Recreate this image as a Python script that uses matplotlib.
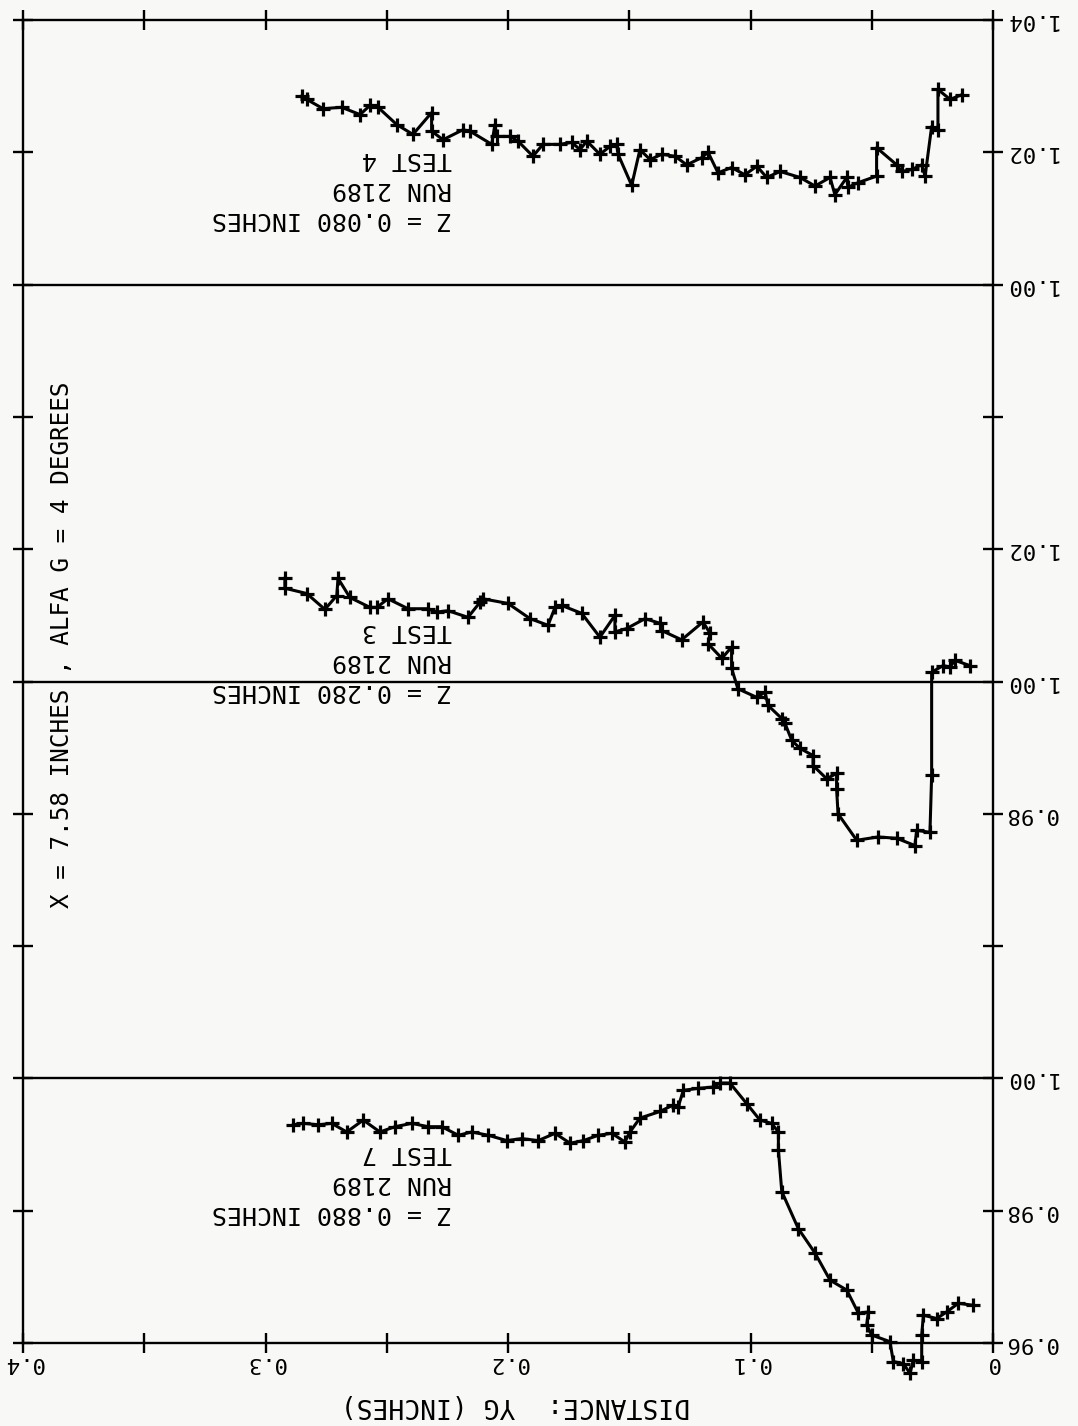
import matplotlib
matplotlib.use("Agg")
import matplotlib.pyplot as plt
import numpy as np

# ---------------- data (YG in inches, ratio values) ----------------
# TEST 4 : Z = 0.080 INCHES
yg_t4 = [0.2851, 0.2830, 0.2763, 0.2686, 0.2610, 0.2569, 0.2536, 0.2459, 0.2392, 0.2315,
         0.2315, 0.2268, 0.2186, 0.2157, 0.2067, 0.2054, 0.2047, 0.1992, 0.1959, 0.1897,
         0.1856, 0.1786, 0.1737, 0.1703, 0.1675, 0.1621, 0.1579, 0.1552, 0.1546, 0.1490,
         0.1456, 0.1414, 0.1366, 0.1311, 0.1263, 0.1201, 0.1175, 0.1134, 0.1078, 0.1023,
         0.0974, 0.0933, 0.0878, 0.0796, 0.0734, 0.0672, 0.0652, 0.0603, 0.0598, 0.0557,
         0.0480, 0.0480, 0.0397, 0.0376, 0.0335, 0.0294, 0.0280, 0.0253, 0.0227, 0.0227,
         0.0177, 0.0129]
val_t4 = [1.0285, 1.0280, 1.0266, 1.0268, 1.0257, 1.0271, 1.0268, 1.0242, 1.0227, 1.0260,
          1.0232, 1.0219, 1.0234, 1.0232, 1.0212, 1.0242, 1.0224, 1.0224, 1.0217, 1.0194,
          1.0212, 1.0212, 1.0215, 1.0204, 1.0217, 1.0197, 1.0209, 1.0212, 1.0197, 1.0150,
          1.0204, 1.0189, 1.0197, 1.0194, 1.0181, 1.0192, 1.0200, 1.0169, 1.0177, 1.0166,
          1.0179, 1.0162, 1.0171, 1.0162, 1.0149, 1.0162, 1.0136, 1.0162, 1.0147, 1.0154,
          1.0164, 1.0207, 1.0181, 1.0171, 1.0174, 1.0181, 1.0164, 1.0239, 1.0234, 1.0295,
          1.0280, 1.0287]

# TEST 3 : Z = 0.280 INCHES
yg_t3 = [0.2920, 0.2920, 0.2830, 0.2755, 0.2706, 0.2701, 0.2652, 0.2569, 0.2541, 0.2495,
         0.2412, 0.2330, 0.2294, 0.2247, 0.2165, 0.2115, 0.2103, 0.2000, 0.1909, 0.1835,
         0.1806, 0.1779, 0.1696, 0.1621, 0.1559, 0.1559, 0.1511, 0.1435, 0.1373, 0.1366,
         0.1284, 0.1196, 0.1167, 0.1175, 0.1118, 0.1078, 0.1078, 0.1052, 0.0974, 0.0940,
         0.0928, 0.0871, 0.0858, 0.0830, 0.0796, 0.0742, 0.0742, 0.0686, 0.0645, 0.0645,
         0.0639, 0.0562, 0.0474, 0.0397, 0.0322, 0.0315, 0.0260, 0.0253, 0.0253, 0.0206,
         0.0177, 0.0157, 0.0095]
val_t3 = [1.0156, 1.0141, 1.0133, 1.0109, 1.0130, 1.0156, 1.0127, 1.0112, 1.0112, 1.0125,
          1.0110, 1.0110, 1.0105, 1.0107, 1.0097, 1.0120, 1.0125, 1.0118, 1.0095, 1.0085,
          1.0112, 1.0115, 1.0103, 1.0067, 1.0100, 1.0075, 1.0080, 1.0095, 1.0088, 1.0077,
          1.0063, 1.0090, 1.0073, 1.0057, 1.0035, 1.0052, 1.0020, 0.9989, 0.9976, 0.9984,
          0.9964, 0.9944, 0.9937, 0.9911, 0.9899, 0.9888, 0.9873, 0.9853, 0.9861, 0.9838,
          0.9800, 0.9760, 0.9765, 0.9763, 0.9752, 0.9775, 0.9772, 0.9858, 1.0014, 1.0024,
          1.0022, 1.0032, 1.0024]

# TEST 7 : Z = 0.880 INCHES
yg_t7 = [0.2885, 0.2844, 0.2782, 0.2727, 0.2665, 0.2597, 0.2528, 0.2466, 0.2397, 0.2329,
         0.2273, 0.2205, 0.2150, 0.2081, 0.2005, 0.1944, 0.1875, 0.1806, 0.1744, 0.1689,
         0.1628, 0.1572, 0.1518, 0.1497, 0.1456, 0.1373, 0.1318, 0.1298, 0.1277, 0.1215,
         0.1153, 0.1126, 0.1085, 0.1016, 0.0961, 0.0913, 0.0885, 0.0885, 0.0871, 0.0803,
         0.0734, 0.0672, 0.0603, 0.0555, 0.0514, 0.0521, 0.0500, 0.0425, 0.0411, 0.0370,
         0.0342, 0.0329, 0.0294, 0.0294, 0.0287, 0.0232, 0.0191, 0.0143, 0.0081]
val_t7 = [0.9930, 0.9932, 0.9930, 0.9932, 0.9919, 0.9937, 0.9919, 0.9927, 0.9932, 0.9927,
          0.9927, 0.9914, 0.9919, 0.9914, 0.9906, 0.9909, 0.9906, 0.9917, 0.9902, 0.9906,
          0.9914, 0.9917, 0.9904, 0.9919, 0.9940, 0.9950, 0.9960, 0.9957, 0.9982, 0.9985,
          0.9987, 0.9993, 0.9993, 0.9962, 0.9937, 0.9932, 0.9919, 0.9892, 0.9829, 0.9773,
          0.9736, 0.9695, 0.9680, 0.9645, 0.9647, 0.9627, 0.9612, 0.9602, 0.9572, 0.9569,
          0.9554, 0.9574, 0.9572, 0.9612, 0.9642, 0.9637, 0.9647, 0.9660, 0.9657]

series_labels = ["Z = 0.080 INCHES\nRUN 2189\nTEST 4",
                 "Z = 0.280 INCHES\nRUN 2189\nTEST 3",
                 "Z = 0.880 INCHES\nRUN 2189\nTEST 7"]

x_ticks = [0.0, 0.05, 0.1, 0.15, 0.2, 0.25, 0.3, 0.35, 0.4]
x_tick_labels = ["0", "", "0.1", "", "0.2", "", "0.3", "", "0.4"]
y_tick_labels = ["0.96", "0.98", "1.00", "", "0.98", "1.00", "1.02", "", "1.00", "1.02", "1.04"]

# ---------------- layout ----------------
W, H = 1078, 1426
bg = "#f8f8f6"
font = "DejaVu Sans Mono"
# each curve is stacked: reference value 1.00 of each curve sits on its own line
bases = [0.84, 0.90, 0.96]

fig = plt.figure(figsize=(W / 100, H / 100), dpi=100, facecolor=bg)
ax = fig.add_axes([23 / W, 1 - 1343 / H, 970 / W, 1323 / H])
ax.set_facecolor(bg)
ax.set_xlim(0.4, 0.0)
ax.set_ylim(0.0, 0.20)

for b in bases:
    ax.axhline(1.00 - b, color="black", lw=1.7, zorder=2)

for xs, vs, b in [(yg_t4, val_t4, bases[0]), (yg_t3, val_t3, bases[1]), (yg_t7, val_t7, bases[2])]:
    ax.plot(xs, np.array(vs) - b, color="black", lw=2.2, marker="+",
            markersize=10, markeredgewidth=2.3, clip_on=False, zorder=3)

for s in ax.spines.values():
    s.set_linewidth(1.7)

ax.set_xticks(x_ticks)
ax.set_xticklabels(x_tick_labels)
ax.set_yticks(np.linspace(0.0, 0.20, 11))
ax.set_yticklabels(y_tick_labels)
ax.tick_params(axis="both", direction="inout", length=14, width=1.7, labelsize=16)
ax.tick_params(axis="x", top=True, bottom=True, labelrotation=180, pad=0)
ax.tick_params(axis="y", left=True, right=True, labelleft=False, labelright=True,
               labelrotation=180, pad=1)
for lab in ax.get_xticklabels() + ax.get_yticklabels():
    lab.set_fontfamily(font)
for lab in ax.get_yticklabels():
    lab.set_va("center")

# annotations (upside-down, as on the scanned page)
tops = [147, 619, 1141]
for txt, top in zip(series_labels, tops):
    fig.text(452 / W, 1 - top / H, txt, rotation=180, ha="right", va="top",
             multialignment="left", fontsize=18, family=font, linespacing=1.32)

fig.text(62 / W, 1 - 645 / H, "X = 7.58 INCHES , ALFA G = 4 DEGREES",
         rotation=90, ha="center", va="center", fontsize=17.5, family=font)

fig.text(515 / W, 1 - 1405 / H, "DISTANCE:  YG (INCHES)", rotation=180,
         ha="center", va="center", fontsize=19, family=font)

fig.savefig("out.png", dpi=100, facecolor=bg)
